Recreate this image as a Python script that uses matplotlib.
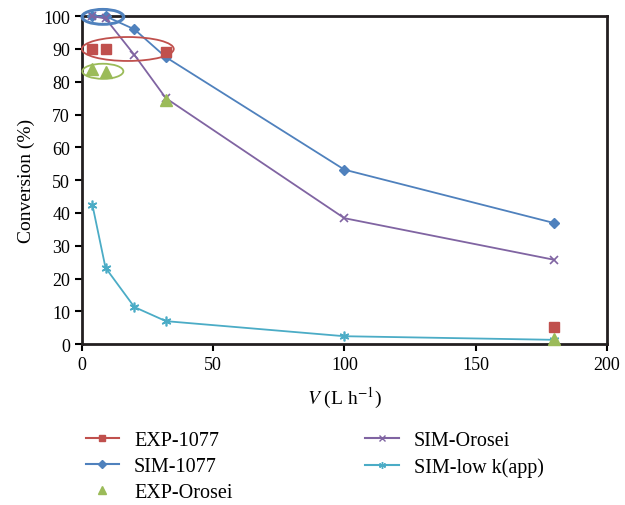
import matplotlib.pyplot as plt
from matplotlib.lines import Line2D
from matplotlib.patches import Ellipse

plt.rcParams['font.family'] = 'Liberation Serif'
plt.rcParams['mathtext.fontset'] = 'stix'

# flow rate values (L/h)
v_sim = [4, 9, 20, 32, 100, 180]
sim_1077 = [100, 100, 96, 87.5, 53.2, 36.9]
sim_orosei = [100, 99.3, 88.2, 75, 38.4, 25.7]
sim_low = [42.5, 23.3, 11.3, 7.0, 2.4, 1.3]

v_exp = [4, 9, 32, 180]
exp_1077 = [90, 90, 89, 5.2]
exp_orosei = [84, 83, 74.5, 1.5]

c_red = '#C0504D'
c_blue = '#4F81BD'
c_green = '#9BBB59'
c_purple = '#8064A2'
c_cyan = '#4BACC6'

fig = plt.figure(figsize=(6.25, 5.06), dpi=100)
ax = fig.add_axes([0.131, 0.318, 0.84, 0.648])

ax.plot(v_sim, sim_1077, color=c_blue, marker='D', markersize=5, lw=1.3, clip_on=False, zorder=3)
ax.plot(v_sim, sim_orosei, color=c_purple, marker='x', markersize=6, mew=1.2, lw=1.3, clip_on=False, zorder=3)
ax.plot(v_sim, sim_low, color=c_cyan, marker=(6, 2, 0), markersize=7, mew=1.2, lw=1.3, clip_on=False, zorder=3)
ax.plot(v_exp, exp_1077, color=c_red, marker='s', markersize=7, ls='none', clip_on=False, zorder=4)
ax.plot(v_exp, exp_orosei, color=c_green, marker='^', markersize=9, ls='none', clip_on=False, zorder=4)

# highlight circles around the low-flow points
for cx, cy, w, h, col in [(8, 99.8, 16.4, 4.9, c_blue), (8, 99.8, 15.2, 4.2, c_blue),
                          (17.5, 90, 35, 7.3, c_red), (8, 83.2, 15.6, 4.6, c_green)]:
    ax.add_patch(Ellipse((cx, cy), w, h, fill=False, edgecolor=col, lw=1.3, clip_on=False, zorder=5))

ax.set_xlim(0, 200)
ax.set_ylim(0, 100)
ax.set_xticks(range(0, 201, 50))
ax.set_yticks(range(0, 101, 10))
ax.tick_params(direction='out', length=5, width=1.5, labelsize=13, colors='black')
for s in ax.spines.values():
    s.set_linewidth(2)
    s.set_color('#231f20')

ax.set_ylabel('Conversion (%)', fontsize=14, labelpad=6)
ax.set_xlabel(r'$V$ (L h$^{-1}$)', fontsize=14, labelpad=9)

handles = [
    Line2D([], [], color=c_red, marker='s', markersize=5),
    Line2D([], [], color=c_blue, marker='D', markersize=4),
    Line2D([], [], color=c_green, marker='^', markersize=6, ls='none'),
    Line2D([], [], color=c_purple, marker='x', markersize=4),
    Line2D([], [], color=c_cyan, marker=(6, 2, 0), markersize=5),
]
labels = ['EXP-1077', 'SIM-1077', 'EXP-Orosei', 'SIM-Orosei', 'SIM-low k(app)']
fig.legend(handles, labels, ncol=2, loc='upper left', bbox_to_anchor=(0.108, 0.183),
           frameon=False, fontsize=14.5, handlelength=1.65, columnspacing=6.6,
           labelspacing=0.36, handletextpad=0.75)

fig.savefig('out.png', dpi=100)
